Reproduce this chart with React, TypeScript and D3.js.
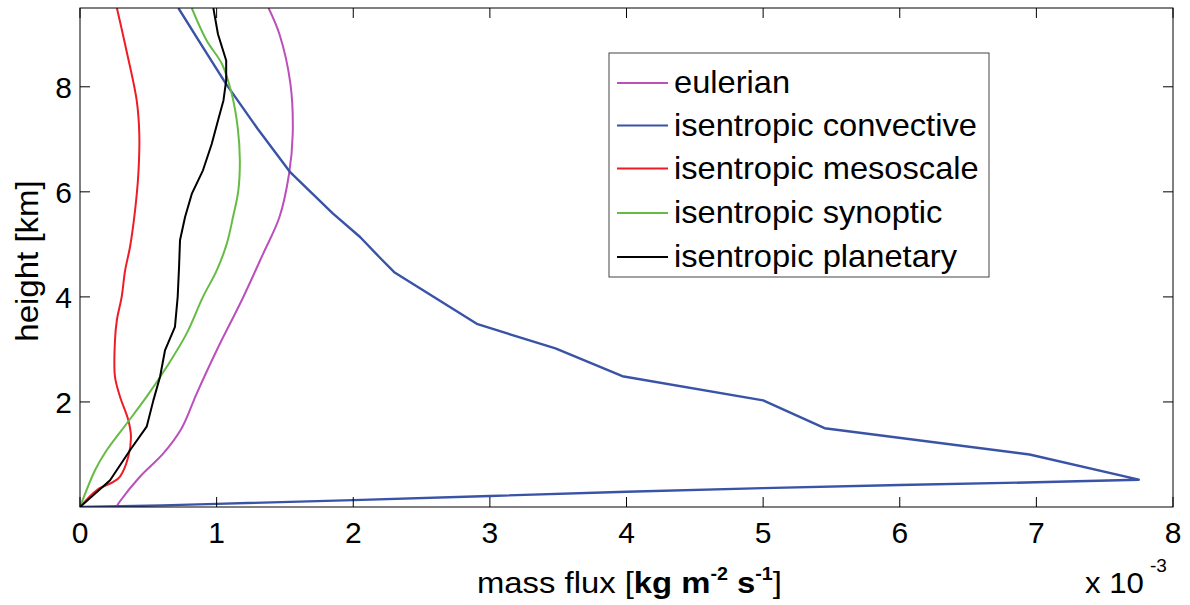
import React from "react";
import * as d3 from "d3";

const W = 1190;
const H = 605;

const xTicks = [0, 1, 2, 3, 4, 5, 6, 7, 8];
const yTicks = [2, 4, 6, 8];

const seriesNames = [
  "eulerian",
  "isentropic convective",
  "isentropic mesoscale",
  "isentropic synoptic",
  "isentropic planetary",
];
const seriesColors = ["#bb4fbb", "#3953a6", "#ee1c24", "#66bb44", "#000000"];
const seriesSmooth = [true, false, true, true, false];

const eulerian: [number, number][] = [
  [0.27, 0.02], [0.29, 0.1], [0.44, 0.58], [0.61, 1.02], [0.744, 1.5], [0.854, 2.16],
  [1.0, 2.98], [1.19, 3.97], [1.34, 4.82], [1.46, 5.52], [1.53, 6.34], [1.557, 7.1],
  [1.54, 8.06], [1.46, 9.0], [1.38, 9.5],
];
const convective: [number, number][] = [
  [0, 0], [0.6, 0.03], [1, 0.06], [2, 0.13], [3, 0.21], [4, 0.29], [5, 0.36], [6, 0.42],
  [7, 0.47], [7.75, 0.52], [6.95, 1.0], [5.45, 1.5], [5.0, 2.03], [3.97, 2.49],
  [3.48, 3.02], [2.91, 3.48], [2.3, 4.47], [2.19, 4.76], [2.05, 5.14], [1.85, 5.59],
  [1.54, 6.37], [1.3, 7.2], [1.07, 8.05], [0.9, 8.75], [0.72, 9.5],
];
const mesoscale: [number, number][] = [
  [0, 0], [0.122, 0.32], [0.244, 0.48], [0.293, 0.58], [0.354, 0.96], [0.373, 1.34],
  [0.354, 1.65], [0.293, 2.1], [0.256, 2.48], [0.256, 3.17], [0.27, 3.56], [0.305, 4.0],
  [0.33, 4.5], [0.366, 4.95], [0.4, 5.58], [0.427, 6.34], [0.434, 7.1], [0.415, 7.74],
  [0.34, 8.69], [0.27, 9.5],
];
const synoptic: [number, number][] = [
  [0, 0], [0.01, 0.07], [0.11, 0.7], [0.195, 1.08], [0.342, 1.59], [0.488, 2.1],
  [0.635, 2.67], [0.78, 3.3], [0.9, 4.0], [1.0, 4.5], [1.074, 5.01], [1.12, 5.52],
  [1.159, 6.03], [1.17, 6.6], [1.154, 7.23], [1.11, 7.87], [1.04, 8.43], [0.927, 8.88],
  [0.818, 9.5],
];
const planetary: [number, number][] = [
  [0, 0], [0.22, 0.51], [0.366, 1.08], [0.488, 1.53], [0.537, 2.03], [0.586, 2.48],
  [0.622, 2.98], [0.695, 3.43], [0.715, 4.0], [0.725, 4.57], [0.732, 5.08], [0.769, 5.52],
  [0.818, 5.96], [0.9, 6.41], [0.964, 6.91], [1.01, 7.36], [1.05, 7.74], [1.07, 8.12],
  [1.07, 8.5], [1.01, 9.0], [0.976, 9.5],
];

const seriesData = [eulerian, convective, mesoscale, synoptic, planetary];

export default function App() {
  const left = 80, right = 1173, top = 8, bottom = 507;
  const x = d3.scaleLinear().domain([0, 8]).range([left, right]);
  const y = d3.scaleLinear().domain([0, 9.5]).range([bottom, top]);
  const lineLinear = d3
    .line<[number, number]>()
    .x((d) => x(d[0]))
    .y((d) => y(d[1]));
  const lineSmooth = d3
    .line<[number, number]>()
    .x((d) => x(d[0]))
    .y((d) => y(d[1]))
    .curve(d3.curveCatmullRom.alpha(0.5));
  const font = "'Liberation Sans', Arial, Helvetica, sans-serif";
  const tickLen = 10;
  const legX = 609, legY = 53, legW = 380, legH = 224;
  const rowY = [83, 125.5, 168.5, 213, 257];

  return (
    <svg
      width={W}
      height={H}
      style={{ position: "absolute", left: 0, top: 0, background: "#fff" }}
      fontFamily={font}
    >
      <defs>
        <clipPath id="plotclip">
          <rect x={left} y={top} width={right - left} height={bottom - top} />
        </clipPath>
      </defs>
      <rect x={0} y={0} width={W} height={H} fill="#fff" />
      <g clipPath="url(#plotclip)">
        {seriesData.map((d, i) => (
          <path
            key={i}
            d={(seriesSmooth[i] ? lineSmooth(d) : lineLinear(d)) || ""}
            fill="none"
            stroke={seriesColors[i]}
            strokeWidth={i === 1 ? 2.4 : 2}
            strokeLinejoin="round"
          />
        ))}
      </g>
      {/* frame */}
      <rect x={left} y={top} width={right - left} height={bottom - top} fill="none" stroke="#000" strokeWidth={1} />
      {xTicks.map((t) => (
        <g key={"xt" + t}>
          <line x1={x(t)} x2={x(t)} y1={bottom} y2={bottom - tickLen} stroke="#000" />
          <line x1={x(t)} x2={x(t)} y1={top} y2={top + tickLen} stroke="#000" />
          <text x={x(t)} y={543} fontSize={30} textAnchor="middle" fill="#000">
            {t}
          </text>
        </g>
      ))}
      {yTicks.map((t) => (
        <g key={"yt" + t}>
          <line x1={left} x2={left + tickLen} y1={y(t)} y2={y(t)} stroke="#000" />
          <line x1={right} x2={right - tickLen} y1={y(t)} y2={y(t)} stroke="#000" />
          <text x={72} y={y(t) + 11} fontSize={30} textAnchor="end" fill="#000">
            {t}
          </text>
        </g>
      ))}
      {/* axis labels */}
      <g transform="translate(477, 593) scale(1.094, 1)">
        <text x={0} y={0} fontSize={30} fill="#000">
          <tspan>mass flux [</tspan>
          <tspan fontWeight="bold">kg m</tspan>
          <tspan fontWeight="bold" fontSize={18} dy={-13}>-2</tspan>
          <tspan fontWeight="bold" dy={13}> s</tspan>
          <tspan fontWeight="bold" fontSize={18} dy={-13}>-1</tspan>
          <tspan dy={13}>]</tspan>
        </text>
      </g>
      <g transform="translate(1085, 593) scale(1.04, 1)">
        <text x={0} y={0} fontSize={30} fill="#000">x 10</text>
      </g>
      <text x={1150} y={572} fontSize={19} fill="#000">-3</text>
      <g transform="translate(38, 261) rotate(-90) scale(1.065, 1)">
        <text x={0} y={0} fontSize={31} textAnchor="middle" fill="#000">
          height [km]
        </text>
      </g>
      {/* legend */}
      <rect x={legX} y={legY} width={legW} height={legH} fill="#fff" stroke="#444" strokeWidth={1} />
      {seriesNames.map((n, i) => (
        <g key={n}>
          <line x1={617} x2={668} y1={rowY[i]} y2={rowY[i]} stroke={seriesColors[i]} strokeWidth={2} />
          <g transform={`translate(674, ${rowY[i] + 10}) scale(1.02, 1)`}>
            <text x={0} y={0} fontSize={32} fill="#000">
              {n}
            </text>
          </g>
        </g>
      ))}
    </svg>
  );
}
